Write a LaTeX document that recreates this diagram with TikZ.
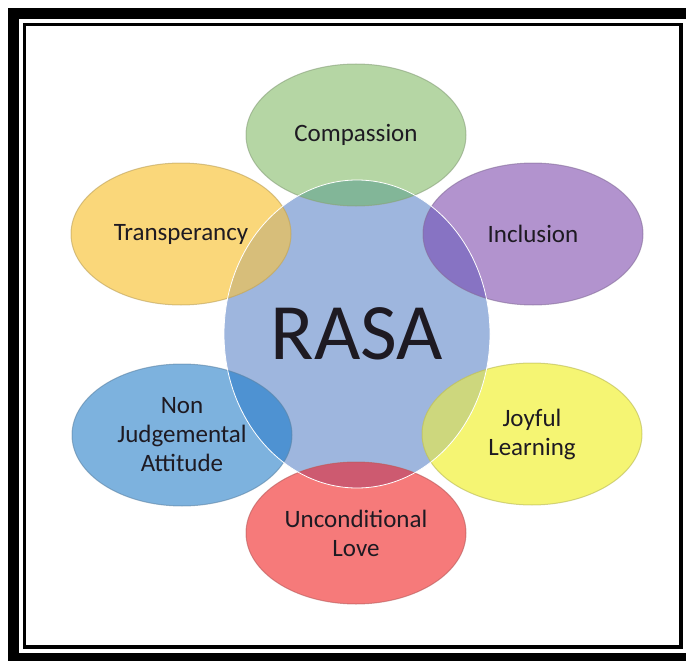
\documentclass[tikz,border=0pt]{standalone}
\usepackage{fontspec}
\setmainfont{Carlito}
\usetikzlibrary{shapes.geometric}

\definecolor{ink}{RGB}{30,26,34}
\definecolor{rasablue}{RGB}{158,182,222}
\definecolor{compgreen}{RGB}{181,214,164}
\definecolor{compdark}{RGB}{130,182,152}
\definecolor{incpurple}{RGB}{178,147,206}
\definecolor{incdark}{RGB}{135,115,195}
\definecolor{joyyellow}{RGB}{245,245,115}
\definecolor{joydark}{RGB}{205,215,125}
\definecolor{lovered}{RGB}{246,122,122}
\definecolor{lovedark}{RGB}{205,90,112}
\definecolor{judgeblue}{RGB}{125,178,222}
\definecolor{judgedark}{RGB}{78,146,210}
\definecolor{transorange}{RGB}{250,215,122}
\definecolor{transdark}{RGB}{215,190,122}

\tikzset{
  petal/.style={ellipse, minimum width=220pt, minimum height=142pt, inner sep=0pt,
    line width=1pt, text=ink, align=center, font=\fontsize{25}{29}\selectfont},
  hub/.style={ellipse, minimum width=266pt, minimum height=308pt, inner sep=0pt,
    text=ink, font=\fontsize{80}{80}\selectfont},
}

\begin{document}
\begin{tikzpicture}[x=1pt, y=-1pt]
  \useasboundingbox (0,0) rectangle (686,661);
  \draw[line width=11pt] (13.5,13.5) rectangle (692,658.5);
  \draw[line width=3.5pt] (24.5,24.5) rectangle (681,647);
  \node[hub, fill=rasablue] (rasa) at (357,334) {RASA};
  \foreach \name/\x/\y/\col/\ovl/\txt in {
      comp/356/135/compgreen/compdark/Compassion,
      inc/533/234/incpurple/incdark/Inclusion,
      joy/532/434/joyyellow/joydark/{Joyful\\Learning},
      love/356/533/lovered/lovedark/{Unconditional\\Love},
      judge/182/435/judgeblue/judgedark/{Non\\Judgemental\\Attitude},
      trans/181/234/transorange/transdark/Transperancy}{
    \node[petal, fill=\col, draw=\col!75!black, draw opacity=.6,
      path picture={\fill[\ovl] (rasa.center) ellipse [x radius=133pt, y radius=154pt];}]
      (\name) at (\x,\y) {\txt};
  }
  \draw[white, line width=.8pt] (rasa.center) ellipse [x radius=133pt, y radius=154pt];
\end{tikzpicture}
\end{document}
